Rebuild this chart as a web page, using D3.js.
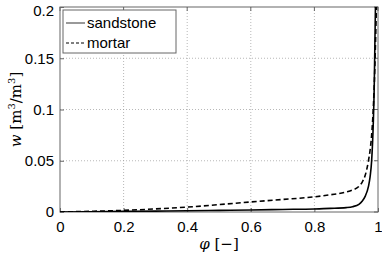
<!DOCTYPE html>
<html><head><meta charset="utf-8">
<script src="https://cdn.jsdelivr.net/npm/d3@7"></script>
<style>body{margin:0;background:#fff}svg{display:block}</style>
</head><body>
<script>
const xTicks = [0, 0.2, 0.4, 0.6, 0.8, 1];
const yTicks = [0, 0.05, 0.1, 0.15, 0.2];
const xTickLabels = ["0", "0.2", "0.4", "0.6", "0.8", "1"];
const yTickLabels = ["0", "0.05", "0.1", "0.15", "0.2"];
const phi = [0, 0.1, 0.2, 0.3, 0.4, 0.5, 0.6, 0.7, 0.8, 0.85, 0.9, 0.92, 0.94, 0.95, 0.96, 0.97, 0.975, 0.98, 0.985, 0.988, 0.99, 0.992];
const sandstone = [0, 0.0003, 0.0006, 0.0009, 0.0012, 0.0016, 0.002, 0.0025, 0.003, 0.0035, 0.0043, 0.0052, 0.0075, 0.0105, 0.0155, 0.025, 0.034, 0.05, 0.085, 0.12, 0.16, 0.2];
const phiM = [0, 0.1, 0.2, 0.3, 0.4, 0.5, 0.6, 0.7, 0.8, 0.85, 0.9, 0.92, 0.94, 0.95, 0.96, 0.97, 0.975, 0.98, 0.985, 0.99, 0.993, 0.995];
const mortar = [0, 0.0007, 0.0016, 0.003, 0.0048, 0.0072, 0.0098, 0.0122, 0.0148, 0.0168, 0.0195, 0.0215, 0.025, 0.029, 0.036, 0.05, 0.06, 0.075, 0.1, 0.14, 0.175, 0.2];
const legendNames = ["sandstone", "mortar"];

const W = 382, H = 253;
const m = {l: 60, r: 4, t: 7, b: 41};
const svg = d3.select("body").append("svg").attr("width", W).attr("height", H);
const x = d3.scaleLinear().domain([0, 1]).range([m.l, W - m.r]);
const y = d3.scaleLinear().domain([0, 0.2]).range([H - m.b, m.t]);
const font = "'Liberation Sans', Arial, sans-serif";

// grid
const g = svg.append("g");
g.selectAll("line.gx").data(xTicks.slice(1, -1)).join("line")
  .attr("x1", d => x(d)).attr("x2", d => x(d)).attr("y1", y(0)).attr("y2", y(0.2))
  .attr("stroke", "#999").attr("stroke-width", 0.7).attr("stroke-dasharray", "1,2");
g.selectAll("line.gy").data(yTicks.slice(1, -1)).join("line")
  .attr("y1", d => y(d)).attr("y2", d => y(d)).attr("x1", x(0)).attr("x2", x(1))
  .attr("stroke", "#999").attr("stroke-width", 0.7).attr("stroke-dasharray", "1,2");

// axes
const xa = svg.append("g").attr("transform", `translate(0,${y(0)})`)
  .call(d3.axisBottom(x).tickValues(xTicks).tickFormat((d, i) => xTickLabels[i]).tickSizeInner(-4).tickSizeOuter(0).tickPadding(9));
const ya = svg.append("g").attr("transform", `translate(${x(0)},0)`)
  .call(d3.axisLeft(y).tickValues(yTicks).tickFormat((d, i) => yTickLabels[i]).tickSizeInner(-4).tickSizeOuter(0).tickPadding(6));
[xa, ya].forEach(a => {
  a.select(".domain").remove();
  a.selectAll("line").attr("stroke", "#666");
  a.selectAll("text").attr("font-family", font).attr("font-size", 15).attr("fill", "#000");
});
// keep top y label inside the picture
ya.selectAll("text").filter(d => d === 0.2).attr("dy", "0.55em");

// top/right ticks
svg.append("g").selectAll("line").data(xTicks).join("line")
  .attr("x1", d => x(d)).attr("x2", d => x(d)).attr("y1", y(0.2)).attr("y2", y(0.2) + 4).attr("stroke", "#666");
svg.append("g").selectAll("line").data(yTicks).join("line")
  .attr("y1", d => y(d)).attr("y2", d => y(d)).attr("x1", x(1)).attr("x2", x(1) - 4).attr("stroke", "#666");

// box
svg.append("rect").attr("x", x(0)).attr("y", y(0.2)).attr("width", x(1) - x(0)).attr("height", y(0) - y(0.2))
  .attr("fill", "none").attr("stroke", "#666").attr("stroke-width", 1);

// lines
svg.append("clipPath").attr("id", "c").append("rect")
  .attr("x", x(0)).attr("y", y(0.2)).attr("width", x(1) - x(0)).attr("height", y(0) - y(0.2));
const line = d3.line().curve(d3.curveMonotoneX);
svg.append("path").attr("clip-path", "url(#c)")
  .attr("d", line(phiM.map((p, i) => [x(p), y(mortar[i])])))
  .attr("fill", "none").attr("stroke", "#000").attr("stroke-width", 1.6).attr("stroke-dasharray", "5,3");
svg.append("path").attr("clip-path", "url(#c)")
  .attr("d", line(phi.map((p, i) => [x(p), y(sandstone[i])])))
  .attr("fill", "none").attr("stroke", "#000").attr("stroke-width", 1.6);

// legend
const lg = svg.append("g");
lg.append("rect").attr("x", 63).attr("y", 10).attr("width", 113).attr("height", 43)
  .attr("fill", "#fff").attr("stroke", "#666").attr("stroke-width", 1);
legendNames.forEach((n, i) => {
  const cy = 23 + i * 20;
  lg.append("line").attr("x1", 66).attr("x2", 85).attr("y1", cy).attr("y2", cy)
    .attr("stroke", i === 0 ? "#555" : "#000").attr("stroke-width", 1.2)
    .attr("stroke-dasharray", i === 0 ? null : "3,2");
  lg.append("text").attr("x", 87).attr("y", cy + 5).text(n)
    .attr("font-family", font).attr("font-size", 15).attr("fill", "#000");
});

// axis labels
const serif = "'DejaVu Serif', 'Liberation Serif', serif";
const xl = svg.append("text").attr("x", (x(0) + x(1)) / 2).attr("y", 249).attr("text-anchor", "middle")
  .attr("font-family", serif).attr("font-size", 15);
xl.append("tspan").attr("font-style", "italic").text("φ");
xl.append("tspan").text(" [−]");
const yl = svg.append("text").attr("transform", `translate(21,${(y(0) + y(0.2)) / 2}) rotate(-90)`)
  .attr("text-anchor", "middle").attr("font-family", serif).attr("font-size", 15);
yl.append("tspan").attr("font-style", "italic").text("w");
yl.append("tspan").text(" [m");
yl.append("tspan").attr("font-size", 10).attr("dy", -6).text("3");
yl.append("tspan").attr("dy", 6).text("/m");
yl.append("tspan").attr("font-size", 10).attr("dy", -6).text("3");
yl.append("tspan").attr("dy", 6).text("]");
</script>
</body></html>
